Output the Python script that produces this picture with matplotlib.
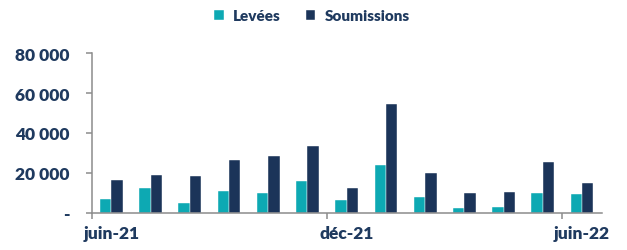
import matplotlib
matplotlib.use("Agg")
import matplotlib.pyplot as plt
from matplotlib.ticker import FuncFormatter, FixedLocator
import numpy as np

months = ["juin-21", "juil-21", "août-21", "sept-21", "oct-21", "nov-21", "déc-21",
          "janv-22", "févr-22", "mars-22", "avr-22", "mai-22", "juin-22"]
levees = [6900, 12600, 4900, 10900, 9700, 15700, 6200, 24100, 7900, 2300, 2700, 9900, 9200]
soumissions = [16400, 19100, 18200, 26400, 28400, 33300, 12400, 54400, 19700, 10000, 10400, 25300, 14900]
shown_labels = {0: "juin-21", 6: "déc-21", 12: "juin-22"}
series_names = ["Levées", "Soumissions"]

TEAL = "#0DA9B3"
NAVY = "#1B3459"
TEXT = "#1F3A5F"
GRAY = "#8C8C8C"

plt.rcParams['font.family'] = ['Lato', 'DejaVu Sans']
plt.rcParams['font.weight'] = 'heavy'

fig = plt.figure(figsize=(6.27, 2.51), dpi=100)
ax = fig.add_axes([91.7/627, 1-213.7/251, (601.7-91.7)/627, (213.7-54.3)/251])

x = np.arange(len(months))
w = 0.29
ax.bar(x - w/2, levees, width=w, color=TEAL, label=series_names[0], edgecolor="white", linewidth=0.3)
ax.bar(x + w/2, soumissions, width=w, color=NAVY, label=series_names[1], edgecolor="white", linewidth=0.3)

ax.set_xlim(-0.5, len(months) - 0.5)
ax.set_ylim(0, 80000)
ax.set_yticks([0, 20000, 40000, 60000, 80000])
ax.yaxis.set_major_formatter(FuncFormatter(lambda v, p: "-" if v == 0 else f"{int(v):,}".replace(",", " ")))
ax.tick_params(axis='y', length=4, width=1.1, color=GRAY, pad=12, labelsize=12.5, labelcolor=TEXT)

ax.xaxis.set_major_locator(FixedLocator([-0.5, 5.5, 11.5]))
ax.xaxis.set_minor_locator(FixedLocator(list(shown_labels.keys())))
ax.set_xticklabels([], minor=False)
ax.set_xticklabels(list(shown_labels.values()), minor=True)
ax.tick_params(axis='x', which='major', length=4, width=1.1, color=GRAY)
ax.tick_params(axis='x', which='minor', length=0, pad=9, labelsize=12.5, labelcolor=TEXT)

for s in ['top', 'right']:
    ax.spines[s].set_visible(False)
for s in ['left', 'bottom']:
    ax.spines[s].set_color(GRAY)
    ax.spines[s].set_linewidth(1.1)

leg = fig.legend(loc='center', bbox_to_anchor=(312/627, 1-16.5/251), ncol=2, frameon=False,
                 fontsize=11, handlelength=0.65, handleheight=0.65, columnspacing=1.6, handletextpad=0.6)
for t in leg.get_texts():
    t.set_color(TEXT)

fig.savefig("out.png", dpi=100)
